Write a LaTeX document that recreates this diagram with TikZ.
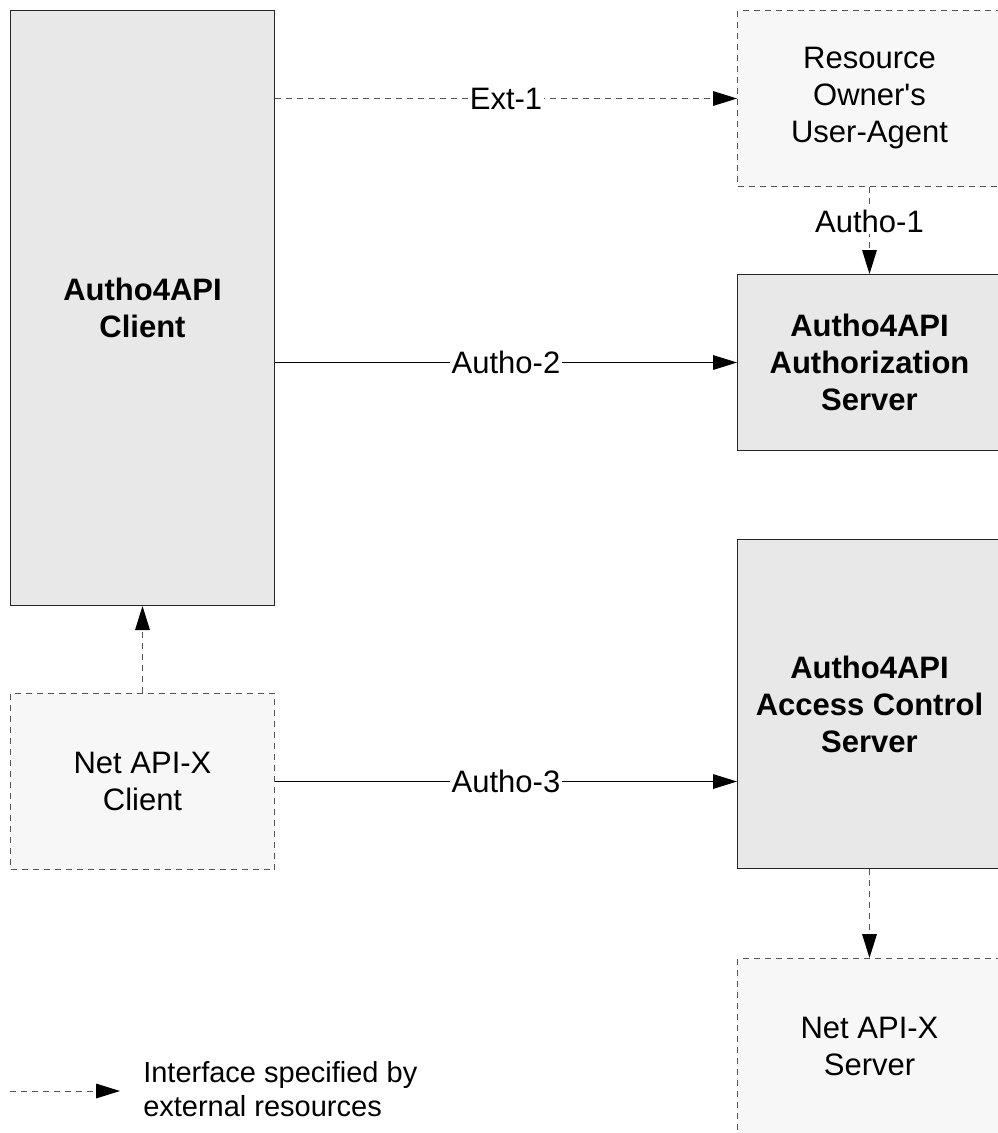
\documentclass[tikz,border=0pt]{standalone}
\usepackage{fontspec}
\setmainfont{Liberation Sans}
\usetikzlibrary{arrows.meta}
\definecolor{solidfill}{HTML}{E8E8E8}
\definecolor{extfill}{HTML}{F7F7F7}
\definecolor{dashcol}{HTML}{555555}
\tikzset{
  boxfont/.style={font={\fontsize{23.25pt}{27.75pt}\selectfont}},
  solidbox/.style={draw=black!85, line width=0.75pt, fill=solidfill, anchor=north west, align=center, inner sep=0pt, boxfont},
  extbox/.style={draw=dashcol, line width=0.75pt, fill=extfill, dash pattern=on 4.5pt off 3.75pt, anchor=north west, align=center, inner sep=0pt, boxfont},
  tip/.style={-{Triangle[length=18pt,width=11pt,color=black]}},
  solidlink/.style={tip, draw=black, line width=0.75pt},
  extlink/.style={tip, draw=dashcol, line width=0.75pt, dash pattern=on 4.5pt off 3.75pt},
  lbl/.style={fill=white, inner sep=1pt, text=black, boxfont, solid}
}
\begin{document}
\begin{tikzpicture}[x=0.75pt, y=-0.75pt]
\useasboundingbox (0,0) rectangle (998,1133);
\clip (0,0) rectangle (998,1133);
\fill[white] (0,0) rectangle (998,1133);

\node[solidbox, minimum width=198pt, minimum height=446.25pt] (client) at (10,10) {\bfseries Autho4API\\\bfseries Client};
\node[extbox, minimum width=198pt, minimum height=132pt] (netclient) at (10,693) {Net API-X\\Client};

\node[extbox, minimum width=198pt, minimum height=132pt] (ua) at (737,10) {Resource\\Owner\textquotesingle s\\User-Agent};
\node[solidbox, minimum width=198pt, minimum height=132pt] (authz) at (737,274) {\bfseries Autho4API\\\bfseries Authorization\\\bfseries Server};
\node[solidbox, minimum width=198pt, minimum height=246.75pt] (acs) at (737,539) {\bfseries Autho4API\\\bfseries Access Control\\\bfseries Server};
\node[extbox, minimum width=198pt, minimum height=132pt] (netserver) at (737,958) {Net API-X\\Server};

\draw[extlink] (client.east |- ua.west) -- node[lbl, midway] {Ext-1} (ua.west);
\draw[extlink] (ua.south) -- node[lbl, pos=0.39] {Autho-1} (authz.north);
\draw[solidlink] (client.east |- authz.west) -- node[lbl, midway] {Autho-2} (authz.west);
\draw[solidlink] (netclient.east) -- node[lbl, midway] {Autho-3} (acs.west |- netclient.east);
\draw[extlink] (netclient.north) -- (client.south);
\draw[extlink] (acs.south) -- (netserver.north);

\coordinate (legA) at (10,1091);
\coordinate (legB) at (120,1091);
\draw[extlink] (legA) -- (legB);
\node[anchor=west, align=left, inner sep=0pt, font={\fontsize{21.75pt}{25.5pt}\selectfont}] (legtext) at (143,1089) {Interface specified by\\external resources};
\end{tikzpicture}
\end{document}
